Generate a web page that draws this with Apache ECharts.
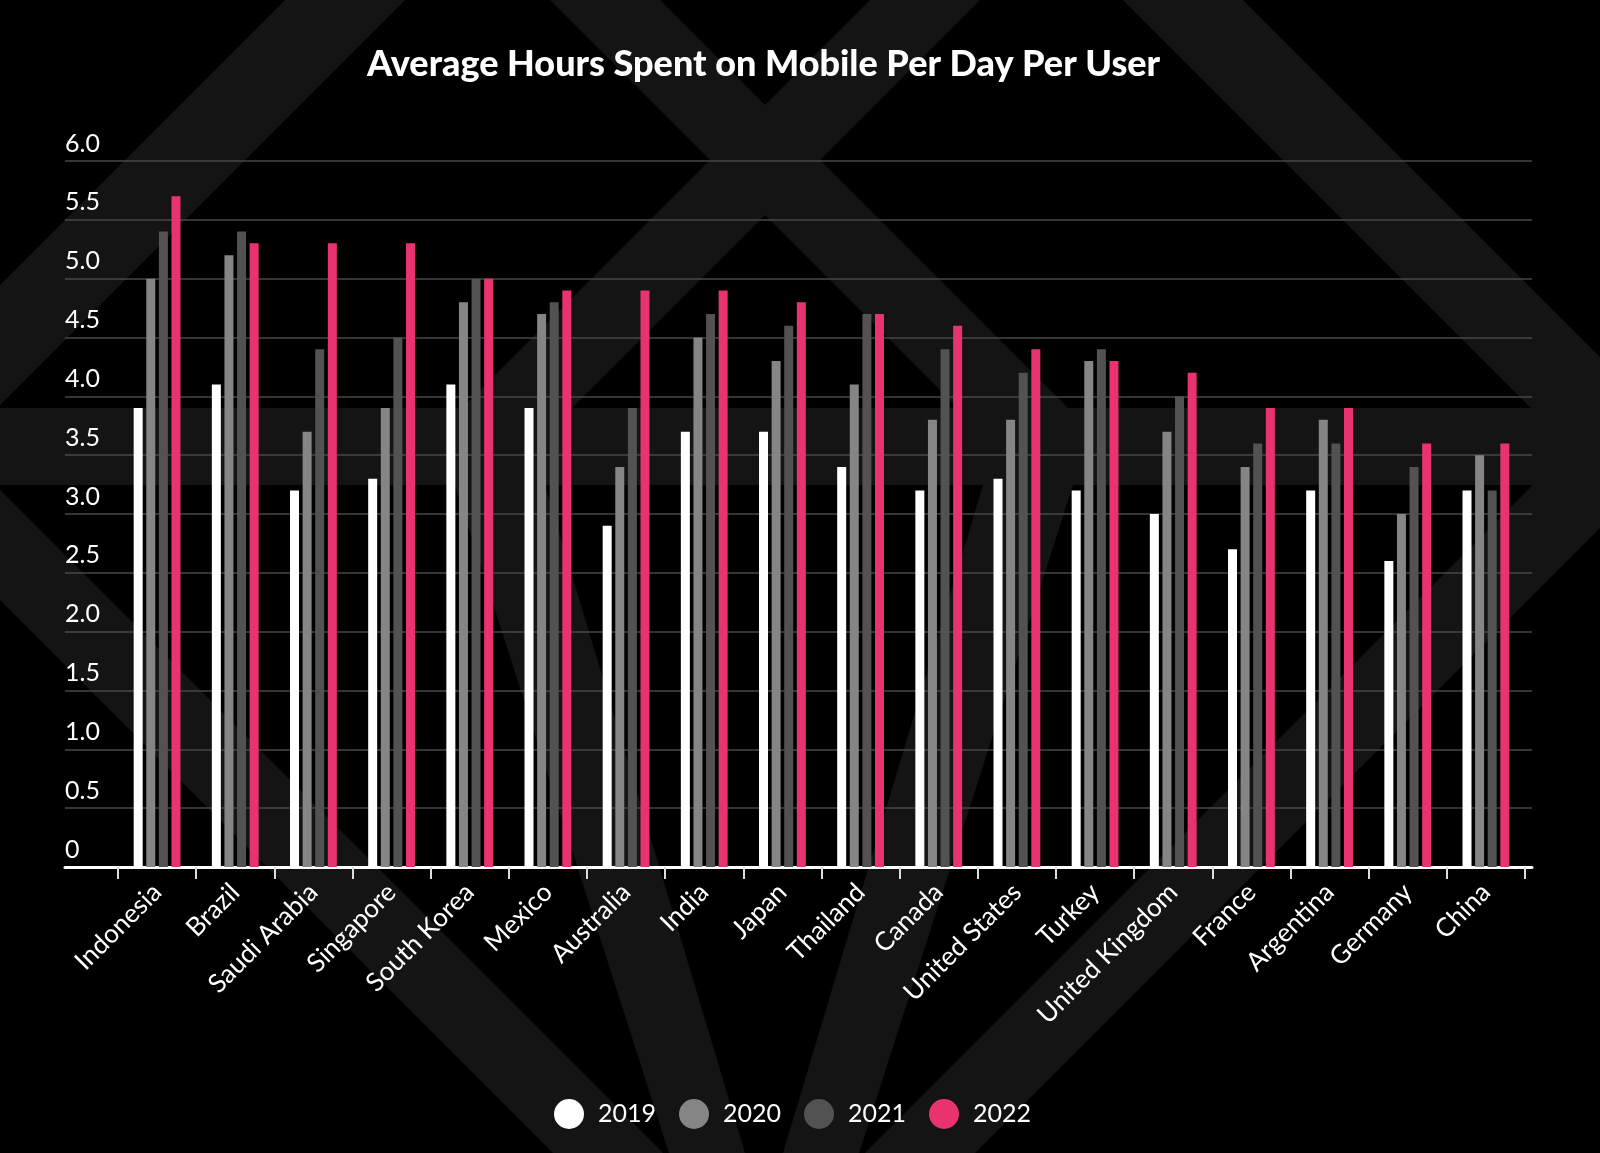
<!DOCTYPE html>
<html>
<head>
<meta charset="utf-8">
<script src="https://cdn.jsdelivr.net/npm/echarts@6/dist/echarts.min.js"></script>
<style>
html,body{margin:0;padding:0;background:#000;}
#chart{width:1600px;height:1153px;}
</style>
</head>
<body>
<div id="chart"></div>
<script>
const categories = ['Indonesia','Brazil','Saudi Arabia','Singapore','South Korea','Mexico','Australia','India','Japan','Thailand','Canada','United States','Turkey','United Kingdom','France','Argentina','Germany','China'];
const seriesNames = ['2019','2020','2021','2022'];
const values2019 = [3.9,4.1,3.2,3.3,4.1,3.9,2.9,3.7,3.7,3.4,3.2,3.3,3.2,3.0,2.7,3.2,2.6,3.2];
const values2020 = [5.0,5.2,3.7,3.9,4.8,4.7,3.4,4.5,4.3,4.1,3.8,3.8,4.3,3.7,3.4,3.8,3.0,3.5];
const values2021 = [5.4,5.4,4.4,4.5,5.0,4.8,3.9,4.7,4.6,4.7,4.4,4.2,4.4,4.0,3.6,3.6,3.4,3.2];
const values2022 = [5.7,5.3,5.3,5.3,5.0,4.9,4.9,4.9,4.8,4.7,4.6,4.4,4.3,4.2,3.9,3.9,3.6,3.6];
const seriesColors = ['#ffffff','#858585','#525252','#e8336f'];
const titleText = 'Average Hours Spent on Mobile Per Day Per User';

const FONT = 'Lato';
const bandFill = '#141414';
function band(points){
  return {type:'polygon', z:-10, silent:true, shape:{points:points}, style:{fill:bandFill}};
}
const bg = [
  {type:'rect', z:-10, silent:true, shape:{x:0,y:408,width:1600,height:77}, style:{fill:bandFill}},
  band([[285,0],[405,0],[0,405],[0,285]]),
  band([[0,490],[663,1153],[553,1153],[0,600]]),
  band([[550,0],[660,0],[1068,408],[958,408]]),
  band([[870,0],[980,0],[572,408],[462,408]]),
  band([[1123,0],[1243,0],[1600,357],[1600,477]]),
  band([[1600,418],[1600,528],[975,1153],[865,1153]]),
  band([[455,485],[545,485],[745,1153],[669,1153]]),
  band([[983,485],[1073,485],[859,1153],[783,1153]])
];

// centre the title on x = 764
const titleSize = 36;
const mctx = document.createElement('canvas').getContext('2d');
mctx.font = '900 ' + titleSize + 'px ' + FONT;
const titleWidth = mctx.measureText(titleText).width;
const titleLeft = Math.round(764 - titleWidth / 2);

const allValues = [values2019, values2020, values2021, values2022];
const series = seriesNames.map((n,i)=>({
  name:n, type:'bar', xAxisIndex:1, yAxisIndex:1,
  data: allValues[i], barWidth:9, barGap:'40%',
  itemStyle:{color:seriesColors[i]}
}));

const chart = echarts.init(document.getElementById('chart'));
chart.setOption({
  backgroundColor:'#000',
  animation:false,
  graphic: bg,
  title:{
    text:titleText,
    left:titleLeft, top:46, padding:0,
    textStyle:{color:'#fff', fontFamily:FONT, fontWeight:900, fontSize:titleSize}
  },
  legend:{
    data: seriesNames, left:549, top:1094, icon:'circle',
    itemWidth:30, itemHeight:30, itemGap:23,
    textStyle:{color:'#fff', fontFamily:FONT, fontSize:25, padding:[0,0,0,9]}
  },
  grid:[
    {left:65, right:68, top:161, bottom:286},
    {left:118, right:75, top:161, bottom:286}
  ],
  xAxis:[
    {gridIndex:0, type:'value', min:0, max:1,
     axisLine:{show:true, lineStyle:{color:'#ffffff', width:3}},
     axisTick:{show:false}, axisLabel:{show:false}, splitLine:{show:false}},
    {gridIndex:1, type:'category', data:categories,
     axisLine:{show:false},
     axisTick:{show:true, length:12, lineStyle:{color:'#dddddd', width:2}},
     axisLabel:{interval:0, rotate:45, margin:21, color:'#ffffff', fontFamily:FONT, fontSize:26}}
  ],
  yAxis:[
    {gridIndex:0, type:'value', min:0, max:6, interval:0.5,
     axisLine:{show:false}, axisTick:{show:false},
     axisLabel:{inside:true, margin:0, align:'left', verticalAlign:'bottom', padding:[0,0,5,0],
       color:'#ffffff', fontFamily:FONT, fontSize:25,
       formatter:v=> v===0 ? '0' : v.toFixed(1)},
     splitLine:{show:true, lineStyle:{color:'#474747', width:1.5}}},
    {gridIndex:1, type:'value', min:0, max:6, interval:0.5, show:false}
  ],
  series: series
});
</script>
</body>
</html>
